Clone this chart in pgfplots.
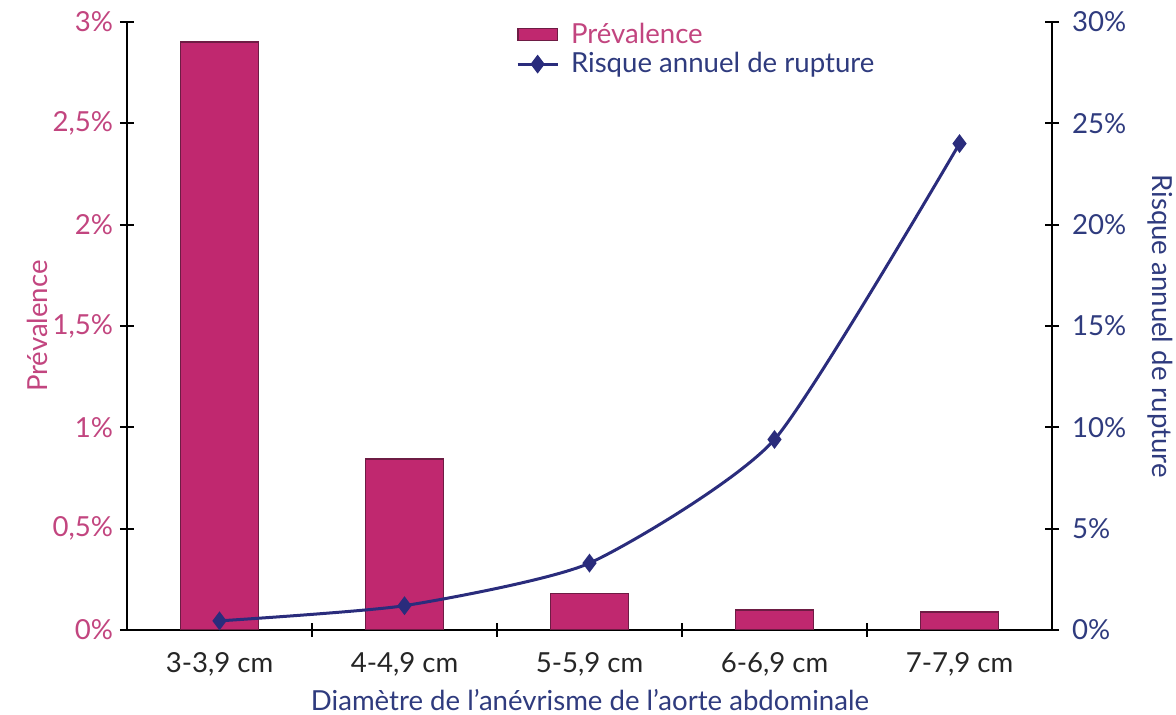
\documentclass[border=0pt]{standalone}
\usepackage{fontspec}
\setmainfont{Lato}
\usepackage{pgfplots}
\pgfplotsset{compat=1.18}
\definecolor{barfill}{HTML}{C0286F}
\definecolor{bardraw}{HTML}{6E1C44}
\definecolor{pinktxt}{HTML}{C2457F}
\definecolor{navy}{HTML}{2A2C7C}
\definecolor{navytxt}{HTML}{2F3B7E}
\pgfplotsset{
  barleg/.style={legend image code/.code={\draw[##1] (0cm,-0.1cm) rectangle (0.7cm,0.11cm);}},
  lineleg/.style={legend image code/.code={\draw[mark repeat=2,mark phase=2,##1] plot coordinates {(0cm,0cm) (0.35cm,0cm) (0.7cm,0cm)};}},
}
\begin{document}
\begin{tikzpicture}[font=\fontsize{13.8}{16}\selectfont]
\begin{axis}[
  name=ax1,
  scale only axis, width=462.5pt, height=304pt,
  xmin=-0.5, xmax=4.5, ymin=0, ymax=3,
  axis x line*=bottom, axis y line*=left,
  axis line style={black, line width=1pt, -},
  tick align=center,
  xtick={0,1,2,3,4},
  xticklabels={{3-3,9 cm},{4-4,9 cm},{5-5,9 cm},{6-6,9 cm},{7-7,9 cm}},
  major x tick style={draw=none},
  minor xtick={0.5,1.5,2.5,3.5},
  minor x tick style={black, line width=1pt},
  minor tick length=7pt,
  major tick length=7pt,
  y tick style={black, line width=1pt},
  x tick label style={yshift=-4pt, text=black!85},
  ytick={0,0.5,1,1.5,2,2.5,3},
  yticklabels={0\%,{0,5\%},1\%,{1,5\%},2\%,{2,5\%},3\%},
  y tick label style={text=pinktxt},
  ylabel={Prévalence},
  ylabel style={at={(axis description cs:-0.097,0.5)}, anchor=center, rotate=0, text=pinktxt},
  xlabel={Diamètre de l'anévrisme de l'aorte abdominale},
  xlabel style={at={(axis description cs:0.5005,-0.115)}, anchor=center, text=navytxt},
]
\addplot[ybar, bar width=0.42, fill=barfill, draw=bardraw, line width=0.8pt]
  coordinates {(0,2.90) (1,0.845) (2,0.18) (3,0.10) (4,0.09)};
\end{axis}
\begin{axis}[
  name=ax2,
  scale only axis, width=462.5pt, height=304pt,
  xmin=-0.5, xmax=4.5, ymin=0, ymax=30,
  axis y line*=right, axis x line=none,
  axis line style={black, line width=1pt, -},
  tick align=center,
  major tick length=7pt,
  y tick style={black, line width=1pt},
  ytick={0,5,10,15,20,25,30},
  yticklabels={0\%,5\%,10\%,15\%,20\%,25\%,30\%},
  y tick label style={text=navytxt, xshift=3pt},
  ylabel={Risque annuel de rupture},
  ylabel style={at={(axis description cs:1.117,0.5)}, anchor=center, rotate=180, text=navytxt},
  legend style={at={(axis description cs:0.416,1.012)}, anchor=north west, draw=none, fill=none,
    row sep=-1pt, inner sep=2pt, cells={anchor=west},
    /tikz/every odd column/.append style={column sep=4pt}},
  legend cell align=left,
]
\addlegendimage{barleg, fill=barfill, draw=bardraw, line width=0.8pt}
\addlegendentry{\textcolor{pinktxt}{Prévalence}}
\addplot[lineleg, navy, line width=1.5pt, smooth, tension=0.35, mark=diamond*, mark size=3.5pt, mark options={fill=navy, draw=navy}]
  coordinates {(0,0.45) (1,1.2) (2,3.3) (3,9.4) (4,24.0)};
\addlegendentry{\textcolor{navytxt}{Risque annuel de rupture}}
\end{axis}
\pgfresetboundingbox
\path ([shift={(-63.5pt,-42.5pt)}]ax1.south west) rectangle ([shift={(62pt,11pt)}]ax1.north east);
\end{tikzpicture}
\end{document}
